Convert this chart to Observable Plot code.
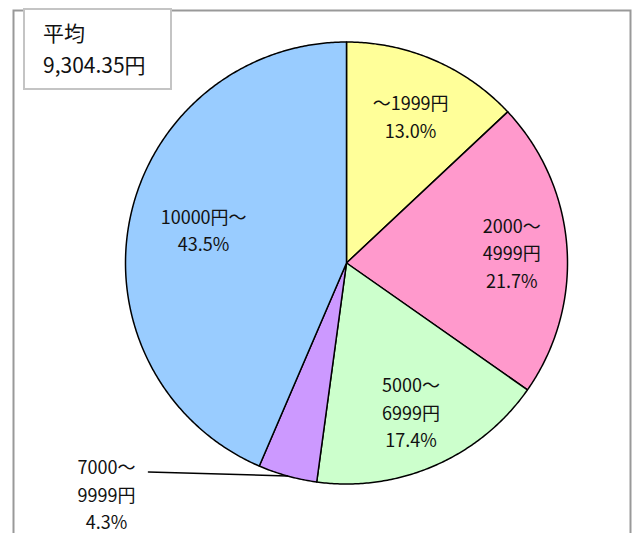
<!DOCTYPE html>
<html>
<head>
<meta charset="utf-8">
<script src="https://cdn.jsdelivr.net/npm/d3@7"></script>
<script src="https://cdn.jsdelivr.net/npm/@observablehq/plot@0.6"></script>
<style>
  html, body { margin: 0; padding: 0; background: #fff; }
  #wrap { position: relative; width: 635px; height: 533px; overflow: hidden; font-family: "Noto Sans CJK JP", "Noto Sans", sans-serif; }
  #avg { position: absolute; left: 23px; top: 8px; width: 145px; height: 78px; border: 2px solid #c4c4c4; background: #fff; box-sizing: content-box; }
  #avg div { position: absolute; left: 18px; font-size: 21px; line-height: 21px; color: #111; white-space: nowrap; }
</style>
</head>
<body>
<div id="wrap">
  <div id="chart"></div>
  <div id="avg"><div style="top:12px">平均</div><div style="top:44px">9,304.35円</div></div>
</div>
<script>
// ---- data ----
const categories = ["～1999円", "2000～4999円", "5000～6999円", "7000～9999円", "10000円～"];
const labelLines = [["～1999円"], ["2000～", "4999円"], ["5000～", "6999円"], ["7000～", "9999円"], ["10000円～"]];
const shares = [13.0, 21.7, 17.4, 4.3, 43.5];
const sliceColors = ["#ffff99", "#ff99cc", "#ccffcc", "#cc99ff", "#99ccff"];

// ---- layout ----
const W = 635, H = 533;
const cx = 346, cy = 262.5, R = 221;
const labelRadius = [0.73, 0.75, 0.73, null, 0.66];
const labelShiftY = [0, 0, 0, 0, -5];

const arcs = d3.pie().sort(null).value(d => d)(shares);
const pt = (a, r) => [cx + r * Math.sin(a), cy - r * Math.cos(a)];

const polys = [];
arcs.forEach((a, i) => {
  polys.push({slice: i, x: cx, y: cy, color: sliceColors[i]});
  const n = Math.max(2, Math.ceil((a.endAngle - a.startAngle) / (Math.PI / 360)));
  for (let k = 0; k <= n; k++) {
    const ang = a.startAngle + (a.endAngle - a.startAngle) * k / n;
    const [x, y] = pt(ang, R);
    polys.push({slice: i, x, y, color: sliceColors[i]});
  }
  polys.push({slice: i, x: cx, y: cy, color: sliceColors[i]});
});

const labels = arcs.map((a, i) => {
  const mid = (a.startAngle + a.endAngle) / 2;
  const text = labelLines[i].concat([shares[i].toFixed(1) + "%"]).join("\n");
  if (labelRadius[i] == null) {
    const [ex, ey] = pt(mid, R);
    return {i, text, x: ex - 181, y: ey + 17, ex, ey, outside: true};
  }
  const [x, y] = pt(mid, R * labelRadius[i]);
  return {i, text, x, y: y + labelShiftY[i], outside: false};
});
const leaders = [];
labels.filter(d => d.outside).forEach(d => {
  leaders.push({k: d.i, x: d.ex, y: d.ey});
  leaders.push({k: d.i, x: d.x + 42, y: d.y - 21});
});

const chart = Plot.plot({
  width: W, height: H,
  margin: 0,
  x: {domain: [0, W], range: [0, W], axis: null},
  y: {domain: [0, H], range: [0, H], axis: null},
  color: {type: "identity"},
  style: {background: "#fff", fontFamily: "'Noto Sans CJK JP', 'Noto Sans', sans-serif"},
  marks: [
    Plot.frame({stroke: "#999", strokeWidth: 2, insetLeft: 13, insetTop: 10, insetRight: 5, insetBottom: -10}),
    Plot.line(polys, {x: "x", y: "y", z: "slice", fill: "color", stroke: "#000", strokeWidth: 1.5, strokeLinejoin: "round", curve: "linear"}),
    Plot.line(leaders, {x: "x", y: "y", z: "k", stroke: "#000", strokeWidth: 1.5}),
    Plot.text(labels, {x: "x", y: "y", text: "text", fontSize: 18, lineHeight: 1.53, fill: "#111", textAnchor: "middle"})
  ]
});
document.getElementById("chart").appendChild(chart);
</script>
</body>
</html>
